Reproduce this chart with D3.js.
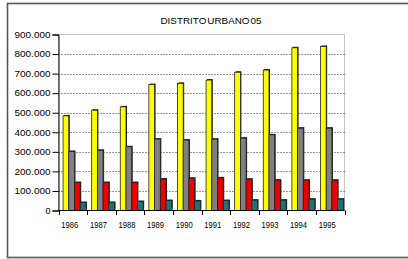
<!DOCTYPE html>
<html lang="es">
<head>
<meta charset="utf-8" />
<title>Distrito Urbano 05</title>
<script src="https://cdn.jsdelivr.net/npm/d3@7"></script>
<style>
html, body {
  margin: 0;
  padding: 0;
  background: #fff;
}
svg text {
  font-family: "Liberation Sans", Arial, sans-serif;
  fill: #000;
}
</style>
</head>
<body>
<div id="chart"></div>
<script>
// datos
var years = ["1986", "1987", "1988", "1989", "1990", "1991", "1992", "1993", "1994", "1995"];
var serie1 = [484000, 513000, 530000, 644000, 650000, 667000, 707000, 718000, 832000, 839000];
var serie2 = [302000, 308000, 326000, 365000, 360000, 365000, 370000, 387000, 421000, 421000];
var serie3 = [143000, 143000, 143000, 161000, 165000, 167000, 160000, 155000, 155000, 155000];
var serie4 = [41000, 41000, 46000, 51000, 49000, 51000, 53000, 53000, 58000, 58000];
var yTicks = [0, 100000, 200000, 300000, 400000, 500000, 600000, 700000, 800000, 900000];
var title = "DISTRITO URBANO 05";

var series = [serie1, serie2, serie3, serie4];
var colors = ["#ffff00", "#808080", "#ee0000", "#1f7077"];

var W = 408, H = 259;
// area del grafico (no usar "top": choca con window.top)
var pL = 58.5, pR = 344.5, pT = 34.5, pB = 210.5;

var svg = d3.select("#chart").append("svg")
  .attr("width", W)
  .attr("height", H);

// marco exterior
svg.append("rect")
  .attr("x", 7.5).attr("y", 3.5)
  .attr("width", W + 10).attr("height", 254)
  .attr("fill", "none")
  .attr("stroke", "#555")
  .attr("stroke-width", 1.6);

svg.append("text")
  .attr("x", 211).attr("y", 23.5)
  .attr("text-anchor", "middle")
  .attr("font-size", 8.5)
  .attr("textLength", 101)
  .attr("lengthAdjust", "spacingAndGlyphs")
  .attr("word-spacing", -1.5)
  .text(title);

var x0 = d3.scaleBand()
  .domain(years)
  .range([pL, pR])
  .paddingInner(0.2)
  .paddingOuter(0.1)
  .align(0.8);

var x1 = d3.scaleBand()
  .domain(d3.range(series.length))
  .range([0, x0.bandwidth()]);

var y = d3.scaleLinear()
  .domain([0, 900000])
  .range([pB, pT]);

var fmt = d3.formatLocale({decimal: ",", thousands: ".", grouping: [3], currency: ["", ""]}).format(",");

// borde del area
svg.append("rect")
  .attr("x", pL).attr("y", pT)
  .attr("width", pR - pL).attr("height", pB - pT)
  .attr("fill", "none")
  .attr("stroke", "#c4c4c4");

// lineas de division punteadas
svg.append("g")
  .selectAll("line")
  .data(yTicks.filter(function(d) { return d > 0 && d < 900000; }))
  .enter().append("line")
  .attr("x1", pL).attr("x2", pR)
  .attr("y1", function(d) { return Math.round(y(d)) + 0.5; })
  .attr("y2", function(d) { return Math.round(y(d)) + 0.5; })
  .attr("stroke", "#333")
  .attr("stroke-dasharray", "1,2");

// barras
var groups = svg.append("g")
  .selectAll("g")
  .data(years)
  .enter().append("g")
  .attr("transform", function(d) { return "translate(" + x0(d) + ",0)"; });

function rows(d, i) {
  return series.map(function(s, k) { return {k: k, v: s[i]}; });
}

groups.selectAll("rect.sombra")
  .data(rows)
  .enter().append("rect")
  .attr("class", "sombra")
  .attr("x", function(d) { return x1(d.k) + 1; })
  .attr("y", function(d) { return y(d.v) - 1; })
  .attr("width", x1.bandwidth())
  .attr("height", function(d) { return pB - y(d.v); })
  .attr("fill", "#222");

groups.selectAll("rect.barra")
  .data(rows)
  .enter().append("rect")
  .attr("class", "barra")
  .attr("x", function(d) { return x1(d.k); })
  .attr("y", function(d) { return y(d.v); })
  .attr("width", x1.bandwidth())
  .attr("height", function(d) { return pB - y(d.v); })
  .attr("fill", function(d) { return colors[d.k]; })
  .attr("stroke", "#222")
  .attr("stroke-width", 0.8);

// eje y
var yAxis = svg.append("g")
  .attr("transform", "translate(" + pL + ",0)")
  .call(d3.axisLeft(y).tickValues(yTicks).tickSize(6).tickPadding(2).tickFormat(fmt));
yAxis.select(".domain").attr("stroke", "#000");
yAxis.selectAll(".tick line").attr("stroke", "#000");
yAxis.selectAll(".tick text")
  .attr("font-family", "'Liberation Sans', Arial, sans-serif")
  .attr("font-size", 8.5)
  .attr("fill", "#000")
  .attr("textLength", function(d) { return d === 0 ? 5 : 36; })
  .attr("lengthAdjust", "spacingAndGlyphs");

// eje x
var xAxis = svg.append("g")
  .attr("transform", "translate(0," + pB + ")");
xAxis.append("line")
  .attr("x1", pL).attr("x2", pR)
  .attr("y1", 0).attr("y2", 0)
  .attr("stroke", "#000");
xAxis.selectAll("line.tick")
  .data(d3.range(years.length + 1))
  .enter().append("line")
  .attr("class", "tick")
  .attr("x1", function(i) { return Math.round(pL + i * x0.step()) + 0.5; })
  .attr("x2", function(i) { return Math.round(pL + i * x0.step()) + 0.5; })
  .attr("y1", 0).attr("y2", 4.5)
  .attr("stroke", "#000");
xAxis.selectAll("text")
  .data(years)
  .enter().append("text")
  .attr("x", function(d, i) { return pL + (i + 0.5) * x0.step() - 3; })
  .attr("y", 17)
  .attr("text-anchor", "middle")
  .attr("font-size", 9.5)
  .attr("textLength", 17)
  .attr("lengthAdjust", "spacingAndGlyphs")
  .text(function(d) { return d; });
</script>
</body>
</html>
